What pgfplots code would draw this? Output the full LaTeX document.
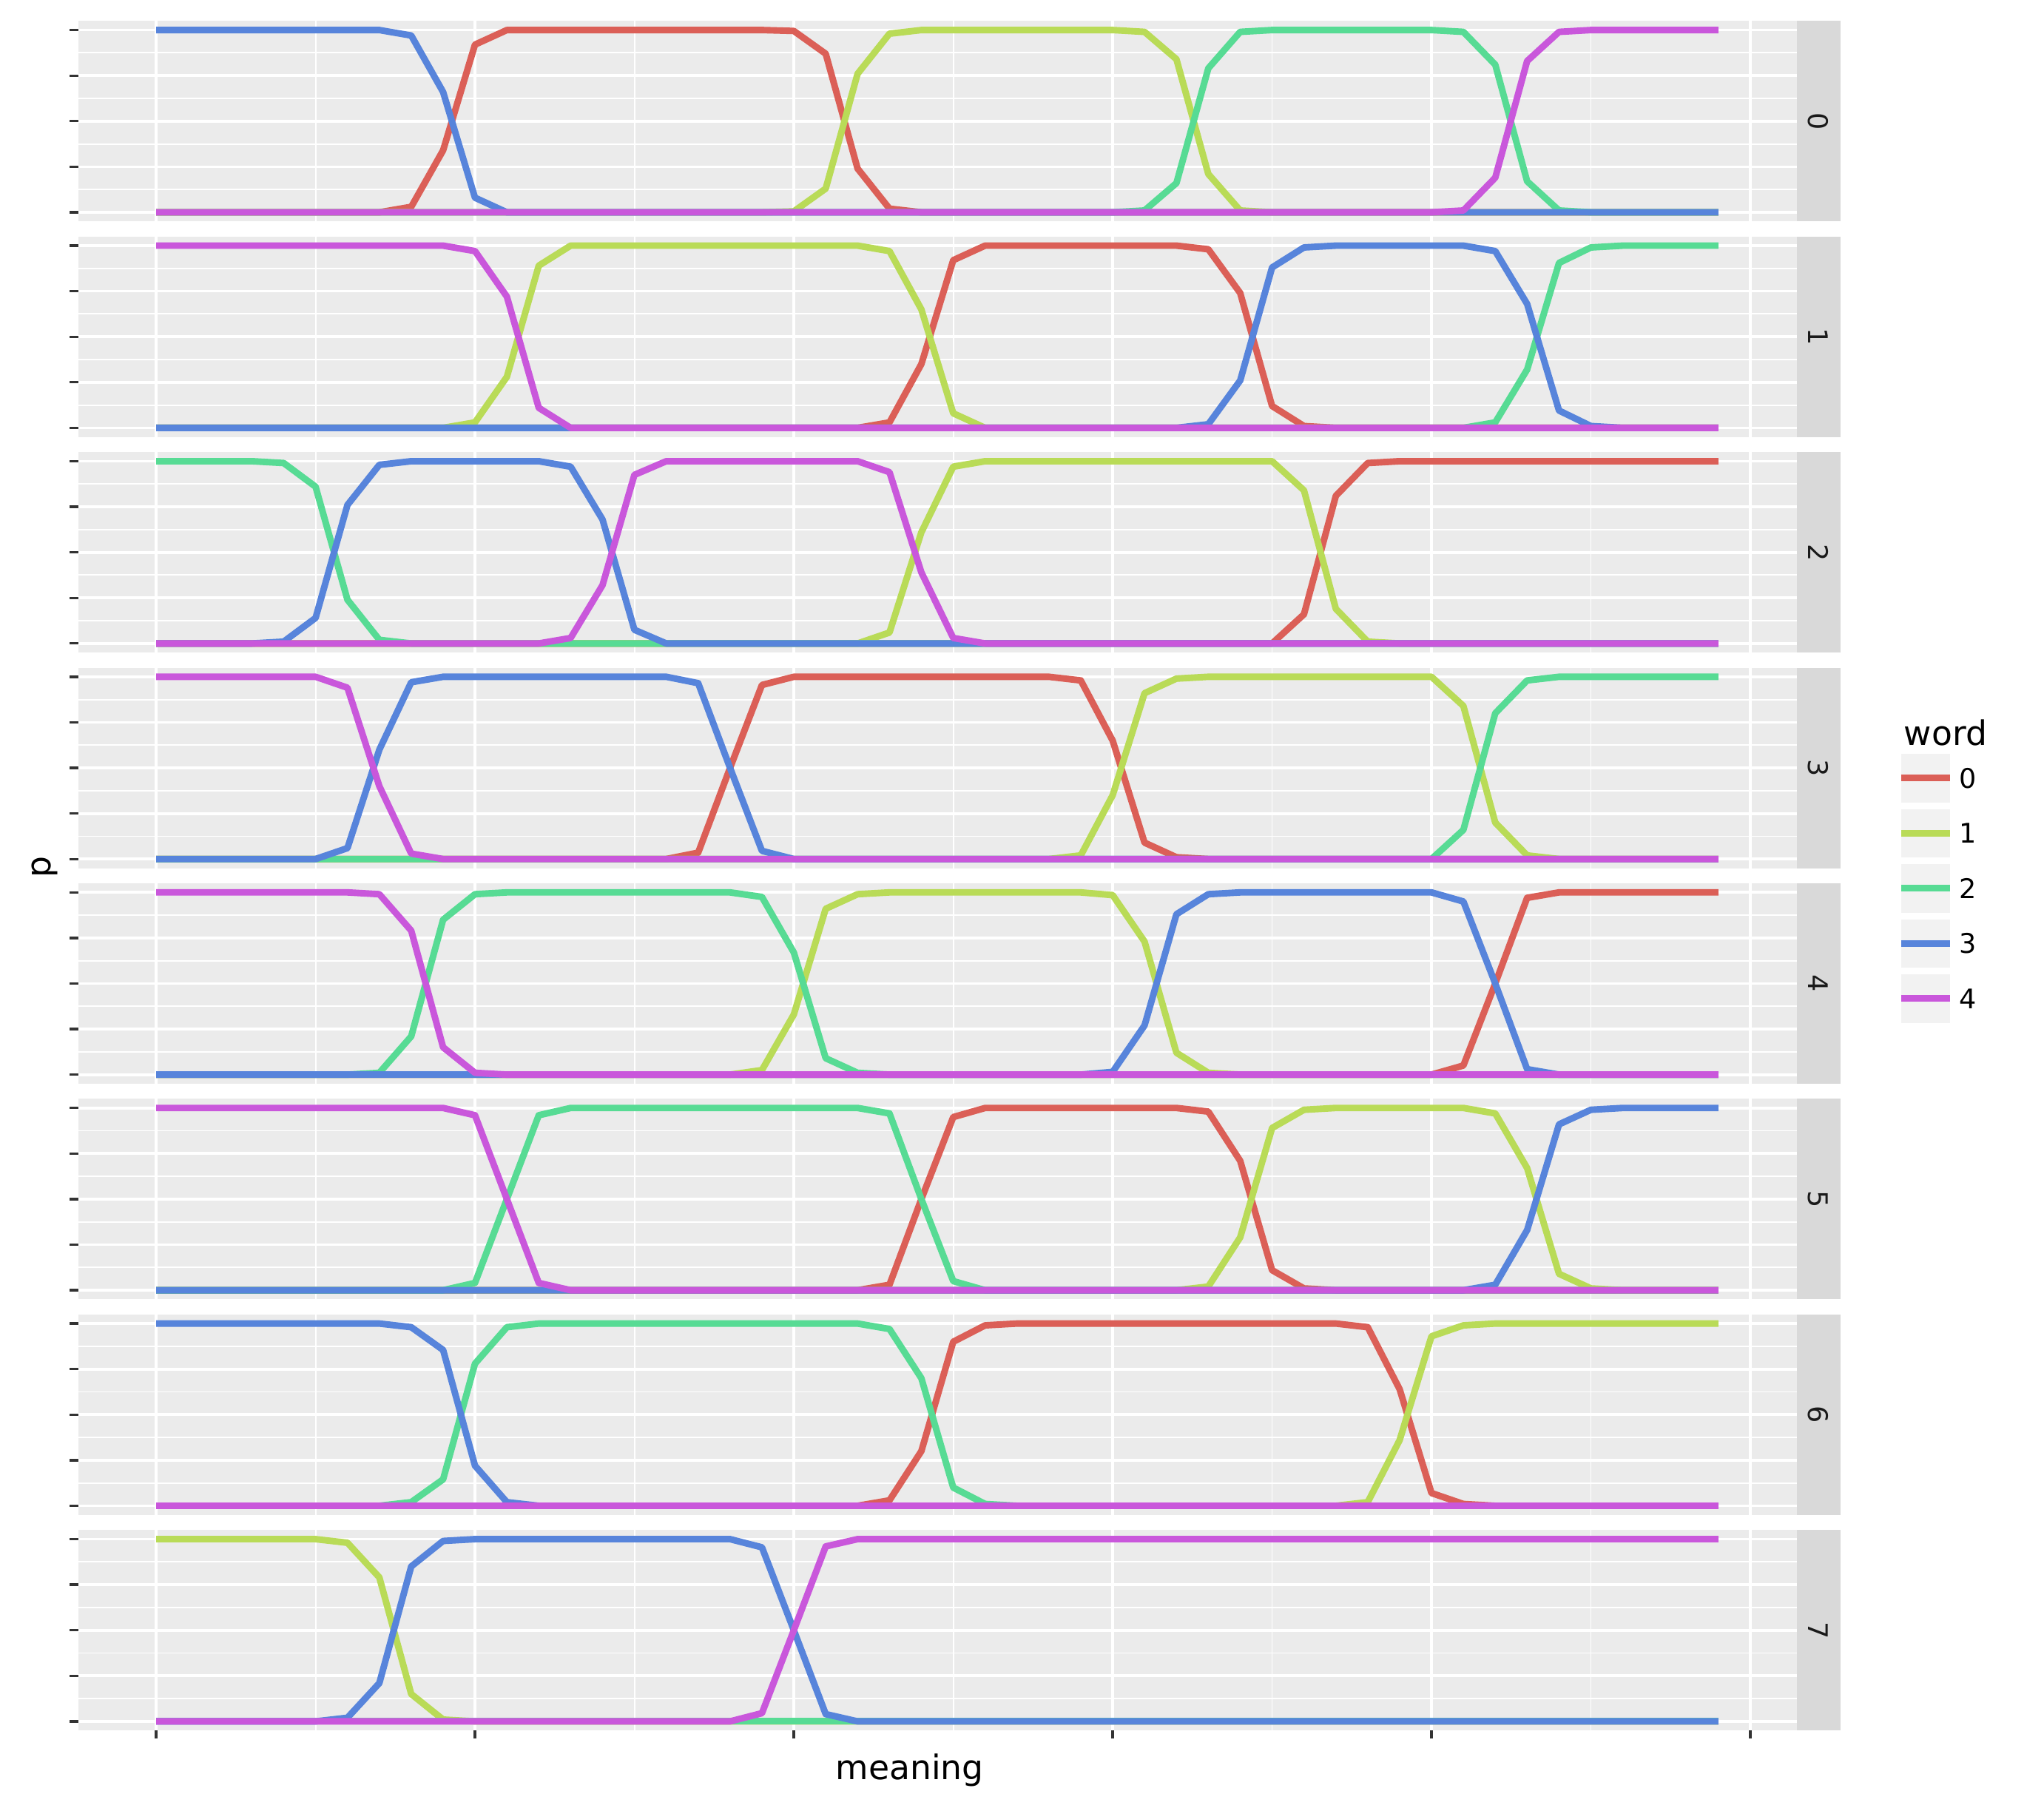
\documentclass[border=0pt]{standalone}
\usepackage{fontspec}
\setmainfont{DejaVu Sans}
\usepackage{pgfplots}
\usepackage{pgfplotstable}
\pgfplotsset{compat=1.18}
\definecolor{c0}{HTML}{DB5F57}
\definecolor{c1}{HTML}{B9DB57}
\definecolor{c2}{HTML}{57DB94}
\definecolor{c3}{HTML}{5784DB}
\definecolor{c4}{HTML}{C957DB}
\definecolor{panelbg}{HTML}{EBEBEB}
\definecolor{stripbg}{HTML}{D9D9D9}
\definecolor{keybg}{HTML}{F2F2F2}
\definecolor{tickc}{HTML}{333333}
\definecolor{stript}{HTML}{1A1A1A}

% panel 0
\pgfplotstableread{
x a b c d e
0 0 0 0 1 0
1 0 0 0 1 0
2 0 0 0 1 0
3 0 0 0 1 0
4 0 0 0 1 0
5 0 0 0 1 0
6 0 0 0 1 0
7 0 0 0 1 0
8 0.03 0 0 0.97 0
9 0.34 0 0 0.66 0
10 0.92 0 0 0.08 0
11 1 0 0 0 0
12 1 0 0 0 0
13 1 0 0 0 0
14 1 0 0 0 0
15 1 0 0 0 0
16 1 0 0 0 0
17 1 0 0 0 0
18 1 0 0 0 0
19 1 0 0 0 0
20 0.995 0.005 0 0 0
21 0.87 0.13 0 0 0
22 0.24 0.76 0 0 0
23 0.02 0.98 0 0 0
24 0 1 0 0 0
25 0 1 0 0 0
26 0 1 0 0 0
27 0 1 0 0 0
28 0 1 0 0 0
29 0 1 0 0 0
30 0 1 0 0 0
31 0 0.99 0.01 0 0
32 0 0.84 0.16 0 0
33 0 0.21 0.79 0 0
34 0 0.01 0.99 0 0
35 0 0 1 0 0
36 0 0 1 0 0
37 0 0 1 0 0
38 0 0 1 0 0
39 0 0 1 0 0
40 0 0 1 0 0
41 0 0 0.99 0 0.01
42 0 0 0.81 0 0.19
43 0 0 0.17 0 0.83
44 0 0 0.01 0 0.99
45 0 0 0 0 1
46 0 0 0 0 1
47 0 0 0 0 1
48 0 0 0 0 1
49 0 0 0 0 1
}\tA
% panel 1
\pgfplotstableread{
x a b c d e
0 0 0 0 0 1
1 0 0 0 0 1
2 0 0 0 0 1
3 0 0 0 0 1
4 0 0 0 0 1
5 0 0 0 0 1
6 0 0 0 0 1
7 0 0 0 0 1
8 0 0 0 0 1
9 0 0 0 0 1
10 0 0.03 0 0 0.97
11 0 0.28 0 0 0.72
12 0 0.89 0 0 0.11
13 0 1 0 0 0
14 0 1 0 0 0
15 0 1 0 0 0
16 0 1 0 0 0
17 0 1 0 0 0
18 0 1 0 0 0
19 0 1 0 0 0
20 0 1 0 0 0
21 0 1 0 0 0
22 0 1 0 0 0
23 0.03 0.97 0 0 0
24 0.35 0.65 0 0 0
25 0.92 0.08 0 0 0
26 1 0 0 0 0
27 1 0 0 0 0
28 1 0 0 0 0
29 1 0 0 0 0
30 1 0 0 0 0
31 1 0 0 0 0
32 1 0 0 0 0
33 0.98 0 0 0.02 0
34 0.74 0 0 0.26 0
35 0.12 0 0 0.88 0
36 0.01 0 0 0.99 0
37 0 0 0 1 0
38 0 0 0 1 0
39 0 0 0 1 0
40 0 0 0 1 0
41 0 0 0 1 0
42 0 0 0.03 0.97 0
43 0 0 0.32 0.68 0
44 0 0 0.905 0.095 0
45 0 0 0.99 0.01 0
46 0 0 1 0 0
47 0 0 1 0 0
48 0 0 1 0 0
49 0 0 1 0 0
}\tB
% panel 2
\pgfplotstableread{
x a b c d e
0 0 0 1 0 0
1 0 0 1 0 0
2 0 0 1 0 0
3 0 0 1 0 0
4 0 0 0.99 0.01 0
5 0 0 0.86 0.14 0
6 0 0 0.24 0.76 0
7 0 0 0.02 0.98 0
8 0 0 0 1 0
9 0 0 0 1 0
10 0 0 0 1 0
11 0 0 0 1 0
12 0 0 0 1 0
13 0 0 0 0.97 0.03
14 0 0 0 0.68 0.32
15 0 0 0 0.075 0.925
16 0 0 0 0 1
17 0 0 0 0 1
18 0 0 0 0 1
19 0 0 0 0 1
20 0 0 0 0 1
21 0 0 0 0 1
22 0 0 0 0 1
23 0 0.06 0 0 0.94
24 0 0.61 0 0 0.39
25 0 0.97 0 0 0.03
26 0 1 0 0 0
27 0 1 0 0 0
28 0 1 0 0 0
29 0 1 0 0 0
30 0 1 0 0 0
31 0 1 0 0 0
32 0 1 0 0 0
33 0 1 0 0 0
34 0 1 0 0 0
35 0 1 0 0 0
36 0.16 0.84 0 0 0
37 0.81 0.19 0 0 0
38 0.99 0.01 0 0 0
39 1 0 0 0 0
40 1 0 0 0 0
41 1 0 0 0 0
42 1 0 0 0 0
43 1 0 0 0 0
44 1 0 0 0 0
45 1 0 0 0 0
46 1 0 0 0 0
47 1 0 0 0 0
48 1 0 0 0 0
49 1 0 0 0 0
}\tC
% panel 3
\pgfplotstableread{
x a b c d e
0 0 0 0 0 1
1 0 0 0 0 1
2 0 0 0 0 1
3 0 0 0 0 1
4 0 0 0 0 1
5 0 0 0 0 1
6 0 0 0 0.06 0.94
7 0 0 0 0.60 0.40
8 0 0 0 0.97 0.03
9 0 0 0 1 0
10 0 0 0 1 0
11 0 0 0 1 0
12 0 0 0 1 0
13 0 0 0 1 0
14 0 0 0 1 0
15 0 0 0 1 0
16 0 0 0 1 0
17 0.035 0 0 0.965 0
18 0.50 0 0 0.50 0
19 0.955 0 0 0.045 0
20 1 0 0 0 0
21 1 0 0 0 0
22 1 0 0 0 0
23 1 0 0 0 0
24 1 0 0 0 0
25 1 0 0 0 0
26 1 0 0 0 0
27 1 0 0 0 0
28 1 0 0 0 0
29 0.98 0.02 0 0 0
30 0.65 0.35 0 0 0
31 0.09 0.91 0 0 0
32 0.01 0.99 0 0 0
33 0 1 0 0 0
34 0 1 0 0 0
35 0 1 0 0 0
36 0 1 0 0 0
37 0 1 0 0 0
38 0 1 0 0 0
39 0 1 0 0 0
40 0 1 0 0 0
41 0 0.84 0.16 0 0
42 0 0.20 0.80 0 0
43 0 0.02 0.98 0 0
44 0 0 1 0 0
45 0 0 1 0 0
46 0 0 1 0 0
47 0 0 1 0 0
48 0 0 1 0 0
49 0 0 1 0 0
}\tD
% panel 4
\pgfplotstableread{
x a b c d e
0 0 0 0 0 1
1 0 0 0 0 1
2 0 0 0 0 1
3 0 0 0 0 1
4 0 0 0 0 1
5 0 0 0 0 1
6 0 0 0 0 1
7 0 0 0.01 0 0.99
8 0 0 0.21 0 0.79
9 0 0 0.85 0 0.15
10 0 0 0.99 0 0.01
11 0 0 1 0 0
12 0 0 1 0 0
13 0 0 1 0 0
14 0 0 1 0 0
15 0 0 1 0 0
16 0 0 1 0 0
17 0 0 1 0 0
18 0 0 1 0 0
19 0 0.025 0.975 0 0
20 0 0.33 0.67 0 0
21 0 0.91 0.09 0 0
22 0 0.99 0.01 0 0
23 0 1 0 0 0
24 0 1 0 0 0
25 0 1 0 0 0
26 0 1 0 0 0
27 0 1 0 0 0
28 0 1 0 0 0
29 0 1 0 0 0
30 0 0.985 0 0.015 0
31 0 0.73 0 0.27 0
32 0 0.12 0 0.88 0
33 0 0.01 0 0.99 0
34 0 0 0 1 0
35 0 0 0 1 0
36 0 0 0 1 0
37 0 0 0 1 0
38 0 0 0 1 0
39 0 0 0 1 0
40 0 0 0 1 0
41 0.05 0 0 0.95 0
42 0.50 0 0 0.50 0
43 0.97 0 0 0.03 0
44 1 0 0 0 0
45 1 0 0 0 0
46 1 0 0 0 0
47 1 0 0 0 0
48 1 0 0 0 0
49 1 0 0 0 0
}\tE
% panel 5
\pgfplotstableread{
x a b c d e
0 0 0 0 0 1
1 0 0 0 0 1
2 0 0 0 0 1
3 0 0 0 0 1
4 0 0 0 0 1
5 0 0 0 0 1
6 0 0 0 0 1
7 0 0 0 0 1
8 0 0 0 0 1
9 0 0 0 0 1
10 0 0 0.04 0 0.96
11 0 0 0.50 0 0.50
12 0 0 0.96 0 0.04
13 0 0 1 0 0
14 0 0 1 0 0
15 0 0 1 0 0
16 0 0 1 0 0
17 0 0 1 0 0
18 0 0 1 0 0
19 0 0 1 0 0
20 0 0 1 0 0
21 0 0 1 0 0
22 0 0 1 0 0
23 0.03 0 0.97 0 0
24 0.50 0 0.50 0 0
25 0.95 0 0.05 0 0
26 1 0 0 0 0
27 1 0 0 0 0
28 1 0 0 0 0
29 1 0 0 0 0
30 1 0 0 0 0
31 1 0 0 0 0
32 1 0 0 0 0
33 0.98 0.02 0 0 0
34 0.71 0.29 0 0 0
35 0.11 0.89 0 0 0
36 0.01 0.99 0 0 0
37 0 1 0 0 0
38 0 1 0 0 0
39 0 1 0 0 0
40 0 1 0 0 0
41 0 1 0 0 0
42 0 0.97 0 0.03 0
43 0 0.67 0 0.33 0
44 0 0.09 0 0.91 0
45 0 0.01 0 0.99 0
46 0 0 0 1 0
47 0 0 0 1 0
48 0 0 0 1 0
49 0 0 0 1 0
}\tF
% panel 6
\pgfplotstableread{
x a b c d e
0 0 0 0 1 0
1 0 0 0 1 0
2 0 0 0 1 0
3 0 0 0 1 0
4 0 0 0 1 0
5 0 0 0 1 0
6 0 0 0 1 0
7 0 0 0 1 0
8 0 0 0.02 0.98 0
9 0 0 0.145 0.855 0
10 0 0 0.78 0.22 0
11 0 0 0.98 0.02 0
12 0 0 1 0 0
13 0 0 1 0 0
14 0 0 1 0 0
15 0 0 1 0 0
16 0 0 1 0 0
17 0 0 1 0 0
18 0 0 1 0 0
19 0 0 1 0 0
20 0 0 1 0 0
21 0 0 1 0 0
22 0 0 1 0 0
23 0.03 0 0.97 0 0
24 0.30 0 0.70 0 0
25 0.90 0 0.10 0 0
26 0.99 0 0.01 0 0
27 1 0 0 0 0
28 1 0 0 0 0
29 1 0 0 0 0
30 1 0 0 0 0
31 1 0 0 0 0
32 1 0 0 0 0
33 1 0 0 0 0
34 1 0 0 0 0
35 1 0 0 0 0
36 1 0 0 0 0
37 1 0 0 0 0
38 0.98 0.02 0 0 0
39 0.64 0.36 0 0 0
40 0.07 0.93 0 0 0
41 0.01 0.99 0 0 0
42 0 1 0 0 0
43 0 1 0 0 0
44 0 1 0 0 0
45 0 1 0 0 0
46 0 1 0 0 0
47 0 1 0 0 0
48 0 1 0 0 0
49 0 1 0 0 0
}\tG
% panel 7
\pgfplotstableread{
x a b c d e
0 0 1 0 0 0
1 0 1 0 0 0
2 0 1 0 0 0
3 0 1 0 0 0
4 0 1 0 0 0
5 0 1 0 0 0
6 0 0.98 0 0.02 0
7 0 0.79 0 0.21 0
8 0 0.15 0 0.85 0
9 0 0.01 0 0.99 0
10 0 0 0 1 0
11 0 0 0 1 0
12 0 0 0 1 0
13 0 0 0 1 0
14 0 0 0 1 0
15 0 0 0 1 0
16 0 0 0 1 0
17 0 0 0 1 0
18 0 0 0 1 0
19 0 0 0 0.955 0.045
20 0 0 0 0.50 0.50
21 0 0 0 0.04 0.96
22 0 0 0 0 1
23 0 0 0 0 1
24 0 0 0 0 1
25 0 0 0 0 1
26 0 0 0 0 1
27 0 0 0 0 1
28 0 0 0 0 1
29 0 0 0 0 1
30 0 0 0 0 1
31 0 0 0 0 1
32 0 0 0 0 1
33 0 0 0 0 1
34 0 0 0 0 1
35 0 0 0 0 1
36 0 0 0 0 1
37 0 0 0 0 1
38 0 0 0 0 1
39 0 0 0 0 1
40 0 0 0 0 1
41 0 0 0 0 1
42 0 0 0 0 1
43 0 0 0 0 1
44 0 0 0 0 1
45 0 0 0 0 1
46 0 0 0 0 1
47 0 0 0 0 1
48 0 0 0 0 1
49 0 0 0 0 1
}\tH

\pgfplotsset{
  facet/.style={
    scale only axis, width=557.52bp, height=65.04bp,
    anchor=north west,
    xmin=-2.45, xmax=51.45, ymin=-0.05, ymax=1.05,
    axis background/.style={fill=panelbg},
    axis line style={draw=none},
    xtick={0,10,20,30,40,50}, minor xtick={5,15,25,35,45},
    ytick={0,0.25,0.5,0.75,1}, minor ytick={0.125,0.375,0.625,0.875},
    xticklabels={,,}, yticklabels={,,},
    grid=both,
    major grid style={white, line width=0.9bp},
    minor grid style={white, line width=0.45bp},
    tick align=outside, tick pos=left,
    major tick length=2.64bp, minor tick length=0pt,
    tick style={tickc, line width=0.8bp},
    every axis plot/.append style={line width=2.13bp, line join=round},
  },
  nox/.style={x tick style={draw=none}},
}
\newcommand\facetplots[1]{%
  \addplot[c0] table[x=x,y=a]{#1};
  \addplot[c1] table[x=x,y=b]{#1};
  \addplot[c2] table[x=x,y=c]{#1};
  \addplot[c3] table[x=x,y=d]{#1};
  \addplot[c4] table[x=x,y=e]{#1};
}

\begin{document}
\begin{tikzpicture}
\fill[white] (0,0) rectangle (663.12bp,-586.56bp);

\begin{axis}[facet, nox, at={(25.32bp,-6.79bp)}]
\facetplots{\tA}
\end{axis}
\begin{axis}[facet, nox, at={(25.32bp,-76.73bp)}]
\facetplots{\tB}
\end{axis}
\begin{axis}[facet, nox, at={(25.32bp,-146.67bp)}]
\facetplots{\tC}
\end{axis}
\begin{axis}[facet, nox, at={(25.32bp,-216.61bp)}]
\facetplots{\tD}
\end{axis}
\begin{axis}[facet, nox, at={(25.32bp,-286.55bp)}]
\facetplots{\tE}
\end{axis}
\begin{axis}[facet, nox, at={(25.32bp,-356.49bp)}]
\facetplots{\tF}
\end{axis}
\begin{axis}[facet, nox, at={(25.32bp,-426.43bp)}]
\facetplots{\tG}
\end{axis}
\begin{axis}[facet, at={(25.32bp,-496.37bp)}]
\facetplots{\tH}
\end{axis}

% strips
\foreach \k in {0,...,7} {
  \fill[stripbg] (582.84bp,{-6.79bp-\k*69.94bp}) rectangle ++(14.16bp,-65.04bp);
  \node[rotate=-90, text=stript, inner sep=0pt, font=\fontsize{8.8}{10}\selectfont]
    at (589.92bp,{-39.31bp-\k*69.94bp}) {\k};
}

% axis titles
\node[rotate=90, inner sep=0pt, font=\fontsize{11}{13}\selectfont] at (14.5bp,-281.3bp) {p};
\node[anchor=base, inner sep=0pt, font=\fontsize{11}{13}\selectfont] at (295.1bp,-577.4bp) {meaning};

% legend
\node[anchor=base west, inner sep=0pt, font=\fontsize{11}{13}\selectfont] at (617.5bp,-241.7bp) {word};
\foreach \k/\c in {0/c0,1/c1,2/c2,3/c3,4/c4} {
  \fill[keybg] (616.8bp,{-244.56bp-\k*17.88bp}) rectangle ++(15.77bp,-15.77bp);
  \draw[\c, line width=2.13bp] (616.8bp,{-252.44bp-\k*17.88bp}) -- ++(15.77bp,0);
  \node[anchor=west, inner sep=0pt, font=\fontsize{8.8}{10}\selectfont] at (635.5bp,{-252.44bp-\k*17.88bp}) {\k};
}

\pgfresetboundingbox
\path[use as bounding box] (0,0) rectangle (663.12bp,-586.56bp);
\end{tikzpicture}
\end{document}
